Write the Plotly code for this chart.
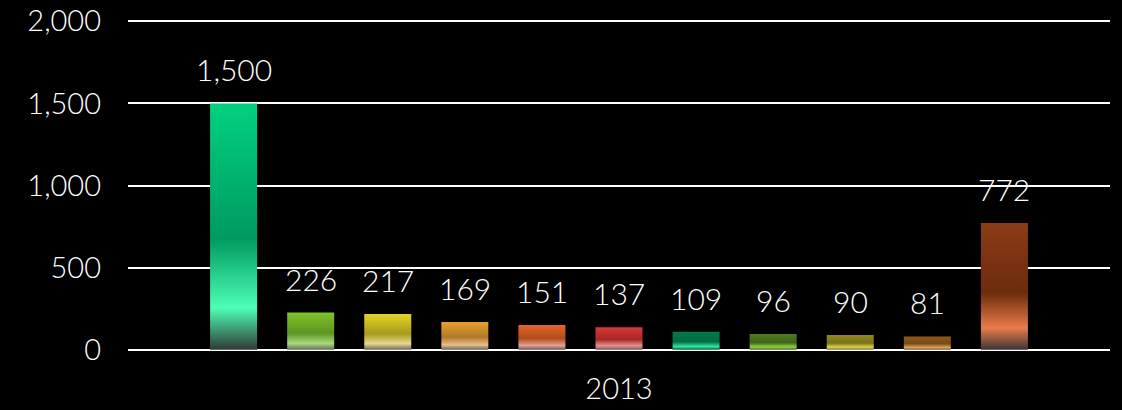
import plotly.graph_objects as go

# data
year = "2013"
values = [1500, 226, 217, 169, 151, 137, 109, 96, 90, 81, 772]
labels = ["1,500", "226", "217", "169", "151", "137", "109", "96", "90", "81", "772"]
# gradient colours per bar: bottom, light band, dark middle, top
bottoms = ["#2f3a35", "#6a7058", "#706a58", "#706058", "#705858", "#705858",
           "#0f5a38", "#4a6a28", "#807830", "#805838", "#3a3434"]
lights = ["#4dffb5", "#a8d880", "#e8d890", "#e8c090", "#e8a090", "#e89090",
          "#2ee8a0", "#90d040", "#e0d050", "#e0a060", "#e87c4a"]
mids = ["#009a60", "#5c9420", "#a89a1c", "#b07828", "#b04c1c", "#a82828",
        "#006a40", "#406618", "#7a7218", "#7a4a14", "#6c2c0e"]
tops = ["#00d27f", "#80c42a", "#e4d428", "#e8a030", "#e86428", "#d83838",
        "#007c4a", "#507a20", "#908a20", "#8c5a1c", "#8c3c16"]

FONT = "Lato"
n = len(values)
width = 0.61

fig = go.Figure()
for i, v in enumerate(values):
    c = i - (n - 1) / 2
    fig.add_trace(go.Scatter(
        x=[c - width / 2, c + width / 2, c + width / 2, c - width / 2, c - width / 2],
        y=[0, 0, v, v, 0],
        mode="lines", fill="toself", line=dict(width=0),
        fillgradient=dict(type="vertical", colorscale=[
            [0, bottoms[i]], [0.17, lights[i]],
            [0.45, mids[i]], [1, tops[i]]]),
        hoverinfo="skip", showlegend=False))
    fig.add_annotation(x=c, y=v, text=labels[i], showarrow=False,
                       yanchor="bottom", yshift=14,
                       font=dict(family=FONT, size=30, color="white", weight=300))

fig.update_layout(
    width=1122, height=410,
    paper_bgcolor="black", plot_bgcolor="black",
    margin=dict(l=128, r=12, t=20, b=59),
    font=dict(family=FONT, color="white", size=29, weight=300),
    showlegend=False,
    xaxis=dict(range=[-6.37, 6.37], tickvals=[0], ticktext=[year],
               showgrid=False, zeroline=False, showline=False, automargin=False,
               ticks="", ticklabelstandoff=18, fixedrange=True),
    yaxis=dict(range=[-8, 2008], tickvals=[0, 500, 1000, 1500, 2000],
               tickformat=",d", showgrid=True, gridcolor="white", gridwidth=2,
               zeroline=False, showline=False, ticks="", automargin=False,
               ticklabelstandoff=26, fixedrange=True),
)

fig.write_html("out.html", config={"displayModeBar": False}, post_script=(
    "document.body.style.margin='0';document.body.style.background='black';"))
